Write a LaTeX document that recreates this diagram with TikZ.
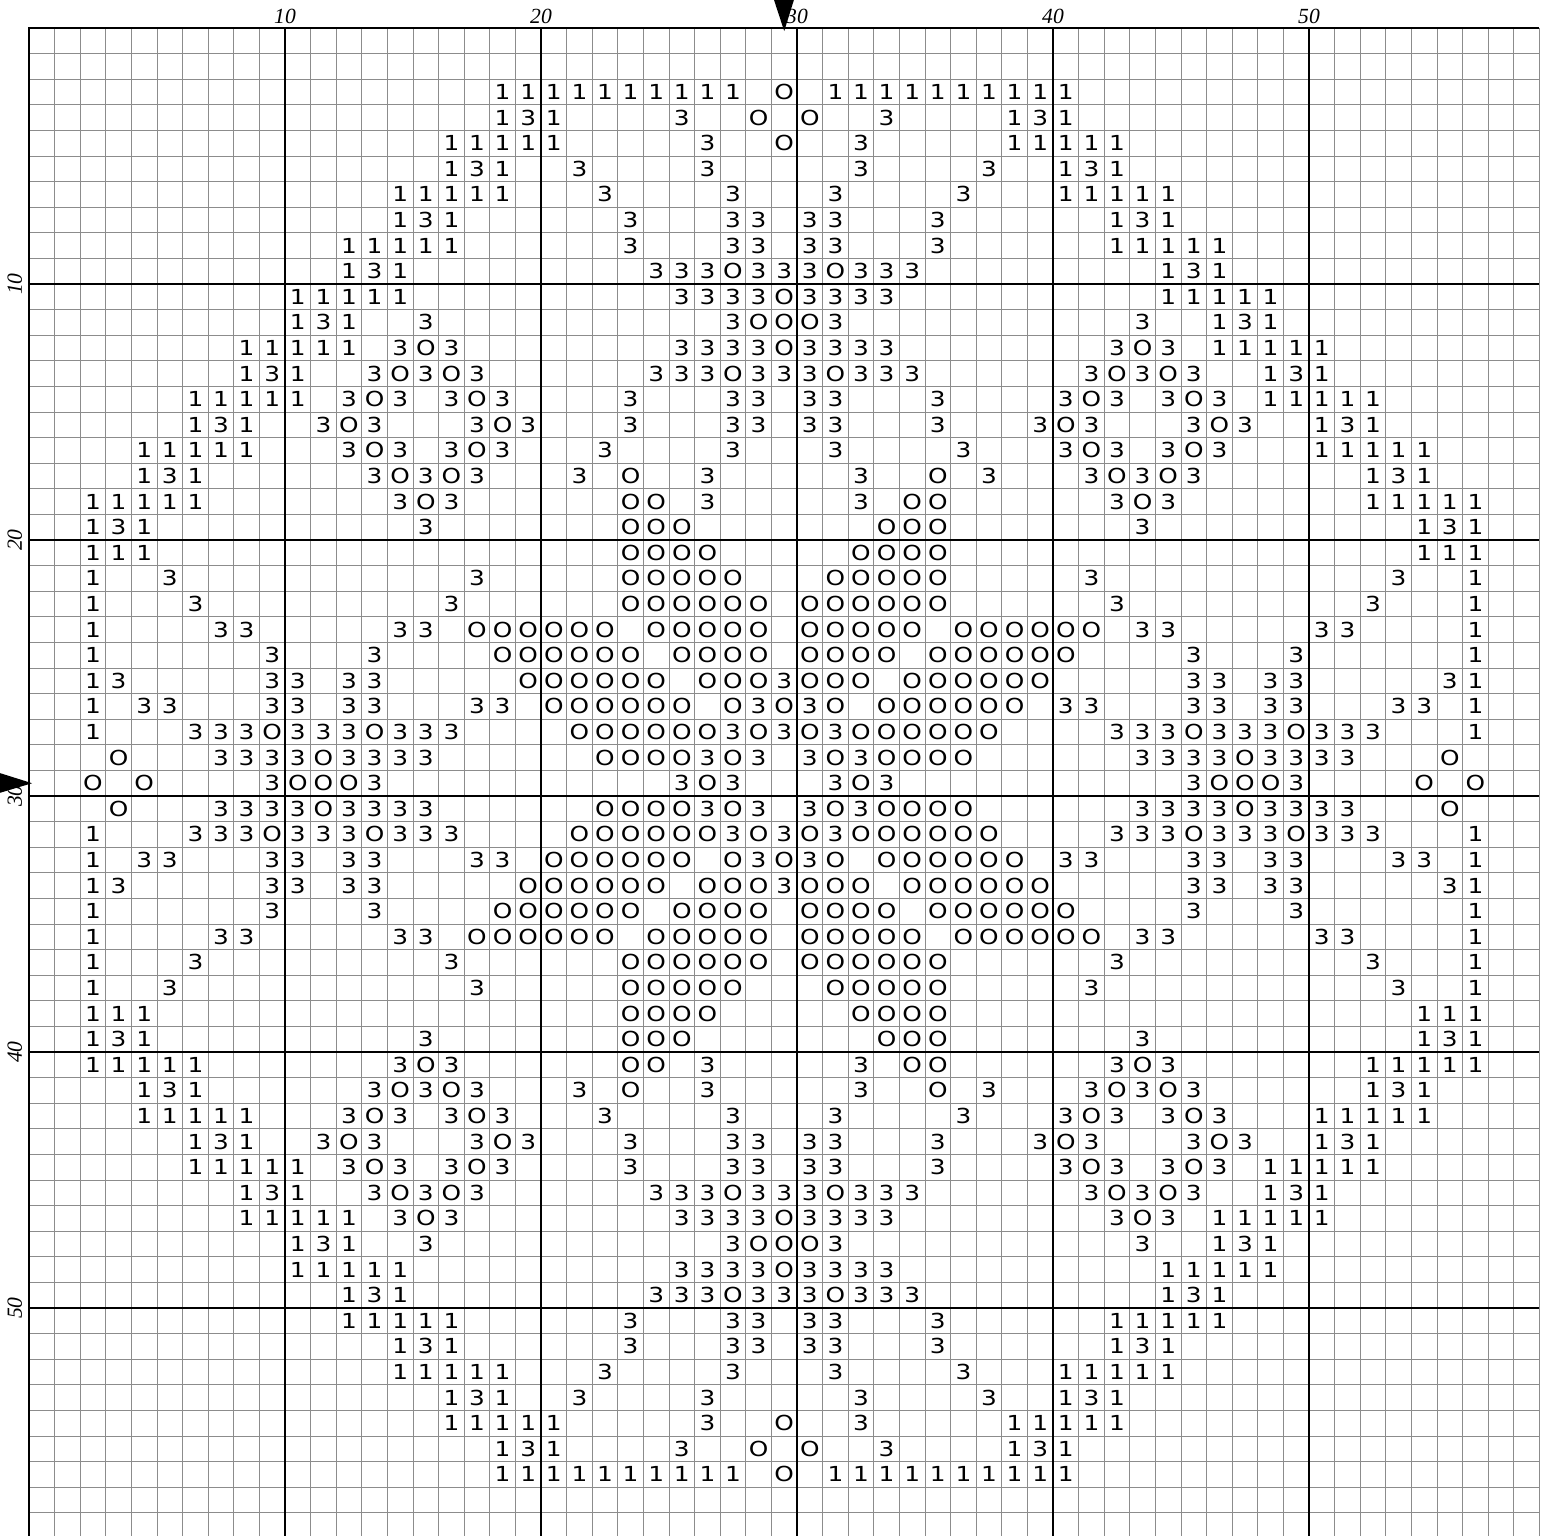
\documentclass[tikz,border=0pt]{standalone}
\usepackage{fontspec}
\newfontfamily\symfont[FakeStretch=1.2]{DejaVu Sans}
\newfontfamily\numfont{Liberation Serif}
\usetikzlibrary{arrows.meta}
\tikzset{
  minor/.style={black!45, line width=0.55pt},
  major/.style={black, line width=0.85pt},
  frame/.style={black, line width=1.3pt},
  sym/.style={inner sep=0pt, font=\symfont\fontsize{11.5}{11.5}\selectfont},
  num/.style={inner sep=0pt, font=\numfont\fontsize{12}{12}\selectfont\itshape},
  pointer/.style={fill=black},
}
% one symbol in the upper left quarter, mirrored to the other three
\newcommand\putquad[3]{%
  \node[sym] at ({#2-0.5},{0.5-#1}) {#3};
  \ifnum#2<30 \node[sym] at ({59.5-#2},{0.5-#1}) {#3};\fi
  \ifnum#1<30 \node[sym] at ({#2-0.5},{#1-59.5}) {#3};\fi
  \ifnum#1<30 \ifnum#2<30 \node[sym] at ({59.5-#2},{#1-59.5}) {#3};\fi\fi
}
% one symbol of the octant, plus its transpose
\newcommand\putoct[3]{\putquad{#1}{#2}{#3}\ifnum#1=#2 \else\putquad{#2}{#1}{#3}\fi}

\begin{document}
\begin{tikzpicture}[x=0.5cm, y=0.5cm]
  \useasboundingbox (-1.133,1.094) rectangle (59.258,-58.906);
  % grid
  \foreach \i in {1,...,59} {
    \draw[minor] (\i,0) -- (\i,-59);
    \draw[minor] (0,-\i) -- (59,-\i);
  }
  \foreach \i in {10,20,...,50} {
    \draw[major] (\i,0) -- (\i,-59);
    \draw[major] (0,-\i) -- (59,-\i);
    \node[num] (top\i) at (\i,0.45) {\i};
    \node[num, rotate=90] (left\i) at (-0.55,-\i) {\i};
  }
  \draw[frame] (59,0) -- (0,0) -- (0,-59);
  % centre markers
  \fill[pointer] (29.1,1.1) -- (29.88,1.1) -- (29.5,-0.12) -- cycle;
  \fill[pointer] (-1.15,-29.1) -- (-1.15,-29.88) -- (0.12,-29.5) -- cycle;
  % symbols: row/first col/last col/symbol, rows 1-30 with col >= row
  \foreach \r/\a/\b/\s in {
    3/19/28/1, 3/30/30/O,
    4/19/19/1, 4/20/20/3, 4/21/21/1, 4/26/26/3, 4/29/29/O,
    5/17/21/1, 5/27/27/3, 5/30/30/O,
    6/17/17/1, 6/18/18/3, 6/19/19/1, 6/22/22/3, 6/27/27/3,
    7/15/19/1, 7/23/23/3, 7/28/28/3,
    8/15/15/1, 8/16/16/3, 8/17/17/1, 8/24/24/3, 8/28/29/3,
    9/13/17/1, 9/24/24/3, 9/28/29/3,
    10/13/13/1, 10/14/14/3, 10/15/15/1, 10/25/27/3, 10/28/28/O, 10/29/30/3,
    11/11/15/1, 11/26/29/3, 11/30/30/O,
    12/12/12/3, 12/13/13/1, 12/16/16/3, 12/28/28/3, 12/29/30/O,
    13/13/13/1, 13/15/15/3, 13/16/16/O, 13/17/17/3, 13/26/29/3, 13/30/30/O,
    14/14/14/3, 14/15/15/O, 14/16/16/3, 14/17/17/O, 14/18/18/3,
    14/25/27/3, 14/28/28/O, 14/29/30/3,
    15/15/15/3, 15/17/17/3, 15/18/18/O, 15/19/19/3, 15/24/24/3, 15/28/29/3,
    16/18/18/3, 16/19/19/O, 16/20/20/3, 16/24/24/3, 16/28/29/3,
    17/17/17/3, 17/18/18/O, 17/19/19/3, 17/23/23/3, 17/28/28/3,
    18/18/18/3, 18/22/22/3, 18/24/24/O, 18/27/27/3,
    19/24/25/O, 19/27/27/3,
    20/24/26/O, 21/24/27/O, 22/24/28/O, 23/24/29/O,
    24/25/29/O, 25/26/29/O,
    26/27/29/O, 26/30/30/3,
    27/28/28/O, 27/29/29/3, 27/30/30/O,
    28/28/28/3, 28/29/29/O, 28/30/30/3,
    29/29/29/3}
  {
    \foreach \c in {\a,...,\b} {\putoct{\r}{\c}{\s}}
  }
\end{tikzpicture}
\end{document}
